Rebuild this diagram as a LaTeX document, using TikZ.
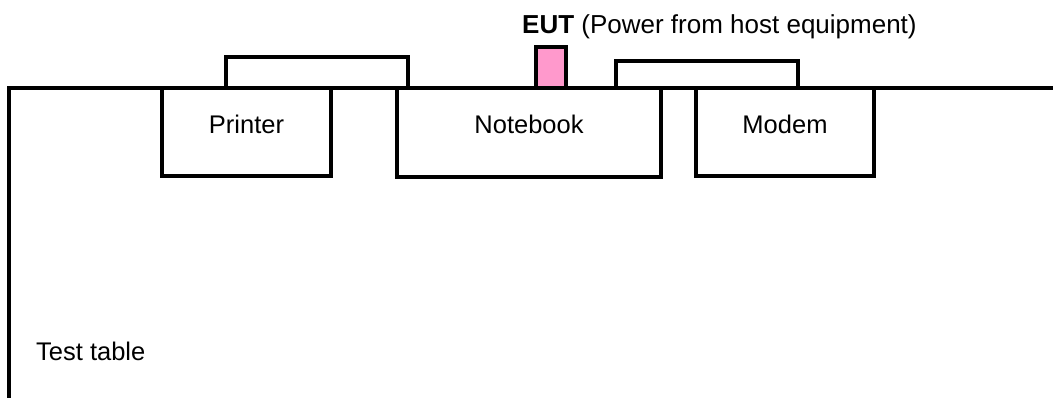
\documentclass[tikz,border=0pt]{standalone}
\usepackage{fontspec}
\setmainfont{Liberation Sans}
\definecolor{eutpink}{HTML}{FF99CC}
\tikzset{
  unit/.style={draw, line width=3.5pt, fill=white, anchor=north west, inner sep=0pt, outer sep=0pt},
  lbl/.style={font=\fontsize{25.5}{30}\selectfont, inner sep=0pt}
}
\begin{document}
\begin{tikzpicture}[x=1pt,y=-1pt]
\useasboundingbox (0,0) rectangle (1053,397);
% test table
\coordinate (tl) at (9,400);
\coordinate (tc) at (9,88);
\coordinate (tr) at (1060,88);
\draw[line width=3.5pt] (tl) -- (tc) -- (tr);
% accessories on top
\node[unit, minimum width=182pt, minimum height=31pt] (pacc) at (226,57) {};
\node[unit, minimum width=182pt, minimum height=27pt] (macc) at (616,61) {};
\node[unit, fill=eutpink, minimum width=30pt, minimum height=41pt] (eut) at (536,47) {};
% devices
\node[unit, minimum width=169pt, minimum height=88pt] (printer) at (162,88) {};
\node[unit, minimum width=264pt, minimum height=89pt] (notebook) at (397,88) {};
\node[unit, minimum width=178pt, minimum height=88pt] (modem) at (696,88) {};
\node[lbl, anchor=base] at ([yshift=-45pt]printer.north) {Printer};
\node[lbl, anchor=base] at ([yshift=-45pt]notebook.north) {Notebook};
\node[lbl, anchor=base] at ([yshift=-45pt]modem.north) {Modem};
\node[lbl, font=\fontsize{26}{30}\selectfont, anchor=base west] (eutlbl) at (522,33) {\textbf{EUT} (Power from host equipment)};
\node[lbl, anchor=base west] (table) at (36,360) {Test table};
\end{tikzpicture}
\end{document}
